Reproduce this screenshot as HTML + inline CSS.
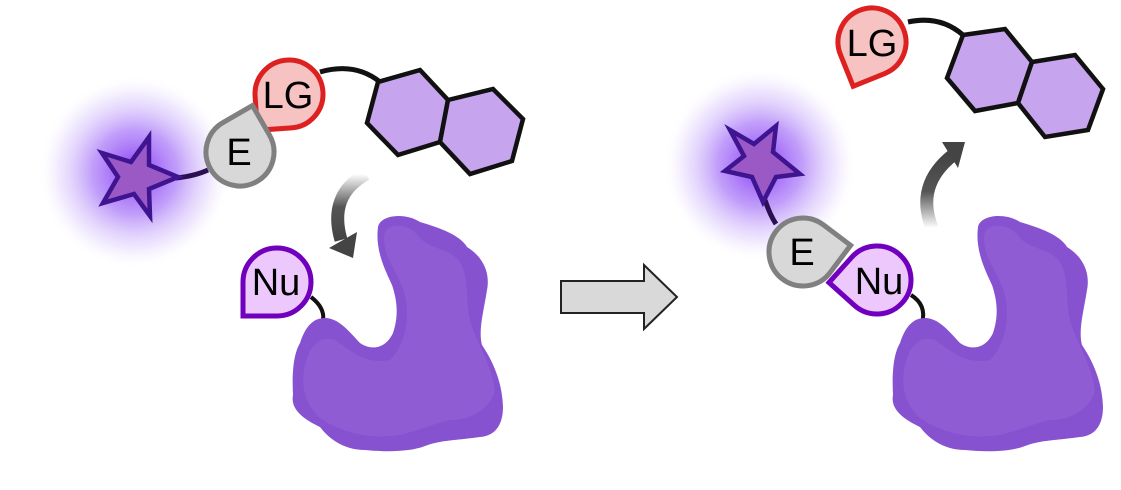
<!DOCTYPE html>
<html><head><meta charset="utf-8"><style>html,body{margin:0;padding:0;background:#fff}svg{display:block}</style></head>
<body>
<svg width="1121" height="490" viewBox="0 0 1121 490" xmlns="http://www.w3.org/2000/svg" font-family="Liberation Sans, sans-serif">
<defs>
<radialGradient id="glow"><stop offset="0" stop-color="#8a3cf5" stop-opacity="1"/><stop offset="0.45" stop-color="#a06af7" stop-opacity="0.65"/><stop offset="0.8" stop-color="#d4bffb" stop-opacity="0.35"/><stop offset="1" stop-color="#f3ecfe" stop-opacity="0"/></radialGradient>
<linearGradient id="ga" x1="0" y1="0" x2="0" y2="1" gradientUnits="objectBoundingBox"><stop offset="0" stop-color="#fff"/><stop offset="0.5" stop-color="#555"/><stop offset="1" stop-color="#444"/></linearGradient>
<linearGradient id="gb" x1="0" y1="1" x2="0" y2="0"><stop offset="0" stop-color="#fff"/><stop offset="0.5" stop-color="#555"/><stop offset="1" stop-color="#444"/></linearGradient>
<path id="tear" d="M-34,34 L-34,0 A34,34 0 0 1 0,-34 A34,34 0 0 1 34,0 A34,34 0 0 1 0,34 Z"/>
<g id="prot">
<path fill="#8652cf" d="M378,227 C380,215 405,212 420,222 C440,228 460,235 467,247 C485,258 490,275 487,290 C484,310 478,330 482,345 C492,360 502,380 503,407 C503,425 495,436 480,437 C460,440 440,440 425,446 C410,452 385,452 365,450 C345,450 330,440 320,427 C305,420 290,410 293,395 C292,375 293,355 300,343 C305,328 312,318 325,318 C338,318 348,330 360,343 C370,350 385,350 393,333 C399,315 397,300 392,285 C385,270 375,250 378,227 Z"/>
<path fill="#9361d6" opacity="0.7" d="M385,232 C390,222 410,224 418,236 C430,250 450,248 460,262 C470,280 465,300 470,320 C475,340 490,360 495,390 C490,410 470,420 450,420 C430,425 420,430 400,435 C370,440 340,432 320,418 C305,405 300,385 305,365 C310,345 320,335 335,340 C350,350 365,365 390,360 C405,345 410,320 405,295 C398,270 380,255 385,232 Z"/>
</g>
</defs>

<!-- LEFT PANEL -->
<circle cx="135" cy="172" r="95" fill="url(#glow)"/>
<path d="M176,178 Q195,176 208,170" stroke="#2a1050" stroke-width="5" fill="none"/>
<polygon points="178,177 149,189 150,216 134,194 103,203 118,177 102,153 131,162 149,137 149,165" fill="#9b59c6" stroke="#3e1490" stroke-width="4.5" stroke-linejoin="miter"/>
<path d="M320,72 Q355,62 380,82" stroke="#111" stroke-width="5" fill="none"/>
<polygon points="378,82 420,70 448,100 440,142 398,155 367,123" fill="#c6a4ee" stroke="#111" stroke-width="4.5" stroke-linejoin="miter"/>
<polygon points="448,100 493,89 523,119 512,161 470,174 440,142" fill="#c6a4ee" stroke="#111" stroke-width="4.5" stroke-linejoin="miter"/>
<g transform="translate(289,94) rotate(-4)"><use href="#tear" fill="#f6c2c2" stroke="#dd2020" stroke-width="5"/></g>
<text x="288" y="108" font-size="38" text-anchor="middle" fill="#000">LG</text>
<g transform="translate(240,152) rotate(150)"><use href="#tear" fill="#d8d8d8" stroke="#808080" stroke-width="5"/></g>
<text x="239" y="165" font-size="38" text-anchor="middle" fill="#000">E</text>
<path d="M366,174 Q328,195 341,240" stroke="url(#ga)" stroke-width="13" fill="none"/>
<polygon points="329,248 353,258 357,232" fill="#444"/>
<path d="M311,297 Q325,308 323,320" stroke="#111" stroke-width="4" fill="none"/>
<use href="#prot"/>
<g transform="translate(277,282)"><use href="#tear" fill="#ecc8fc" stroke="#7000bd" stroke-width="5"/></g>
<text x="276" y="295" font-size="38" text-anchor="middle" fill="#000">Nu</text>

<!-- ARROW -->
<polygon points="561,281 644,281 644,265 677,297 644,329 644,313 561,313" fill="#d9d9d9" stroke="#222" stroke-width="2"/>

<!-- RIGHT PANEL -->
<circle cx="760" cy="165" r="95" fill="url(#glow)"/>
<path d="M765,200 Q770,215 776,224" stroke="#2a1050" stroke-width="5" fill="none"/>
<polygon points="800,174 776,177 763,202 752,177 725,171 744,156 730,130 754,144 776,126 773,152" fill="#9b59c6" stroke="#3e1490" stroke-width="4.5"/>
<path d="M908,22 Q940,15 963,35" stroke="#111" stroke-width="5" fill="none"/>
<polygon points="963,35 1005,29 1032,62 1018,103 975,111 947,78" fill="#c6a4ee" stroke="#111" stroke-width="4.5"/>
<polygon points="1032,62 1075,55 1103,89 1088,130 1045,137 1018,103" fill="#c6a4ee" stroke="#111" stroke-width="4.5"/>
<g transform="translate(872,42) rotate(-22)"><use href="#tear" fill="#f6c2c2" stroke="#dd2020" stroke-width="5"/></g>
<text x="872" y="56" font-size="38" text-anchor="middle" fill="#000">LG</text>
<path d="M932,228 Q915,185 953,155" stroke="url(#gb)" stroke-width="13" fill="none"/>
<polygon points="942,142 965,142 958,168" fill="#444"/>
<path d="M911,295 Q927,305 922,323" stroke="#111" stroke-width="4" fill="none"/>
<use href="#prot" transform="translate(600,0)"/>
<g transform="translate(877,280) rotate(42)"><use href="#tear" fill="#ecc8fc" stroke="#7000bd" stroke-width="5"/></g>
<text x="879" y="294" font-size="38" text-anchor="middle" fill="#000">Nu</text>
<g transform="translate(803,252) rotate(-143)"><use href="#tear" fill="#d8d8d8" stroke="#808080" stroke-width="5"/></g>
<text x="802" y="265" font-size="38" text-anchor="middle" fill="#000">E</text>
</svg>
</body></html>
